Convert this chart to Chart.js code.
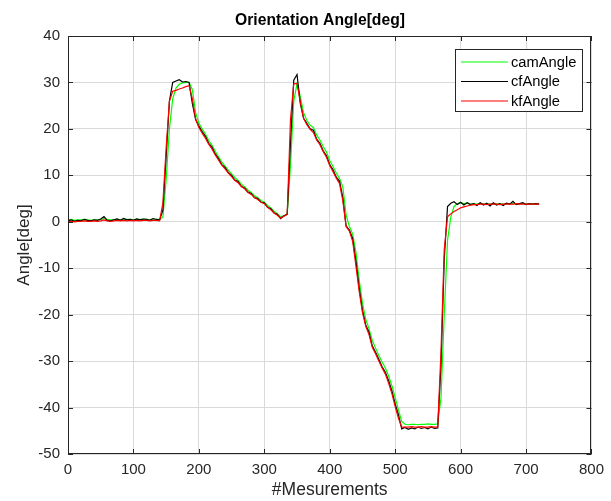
<!DOCTYPE html>
<html>
<head>
<meta charset="utf-8">
<script src="https://cdn.jsdelivr.net/npm/chart.js@4.4.0/dist/chart.umd.min.js"></script>
<style>
  body { margin: 0; background: #fff; }
  #wrap { width: 611px; height: 501px; }
</style>
</head>
<body>
<div id="wrap"><canvas id="angleChart" width="611" height="501"></canvas></div>
<script>
const measurements = [
  0, 5, 10, 15, 20, 25, 30, 35, 40, 45,
  50, 55, 60, 65, 70, 75, 80, 85, 90, 95,
  100, 105, 110, 115, 120, 125, 130, 135, 140, 145,
  150, 155, 160, 165, 170, 175, 180, 185, 190, 195,
  200, 205, 210, 215, 220, 225, 230, 235, 240, 245,
  250, 255, 260, 265, 270, 275, 280, 285, 290, 295,
  300, 305, 310, 315, 320, 325, 330, 335, 340, 345,
  350, 355, 360, 365, 370, 375, 380, 385, 390, 395,
  400, 405, 410, 415, 420, 425, 430, 435, 440, 445,
  450, 455, 460, 465, 470, 475, 480, 485, 490, 495,
  500, 505, 510, 515, 520, 525, 530, 535, 540, 545,
  550, 555, 560, 565, 570, 575, 580, 585, 590, 595,
  600, 605, 610, 615, 620, 625, 630, 635, 640, 645,
  650, 655, 660, 665, 670, 675, 680, 685, 690, 695,
  700, 705, 710, 715, 720
];

const camAngle = [
  0.4, 0.5, 0.3, 0.4, 0.4, 0.5, 0.4, 0.3, 0.4, 0.4,
  0.5, 0.7, 0.5, 0.4, 0.4, 0.5, 0.4, 0.6, 0.5, 0.5,
  0.4, 0.5, 0.5, 0.5, 0.5, 0.4, 0.6, 0.5, 0.5, 1.0,
  9, 20, 26.5, 28.8, 29.6, 29.9, 30.0, 30.0, 28.5, 23.5,
  21.2, 20.0, 18.9, 17.5, 16.5, 15.2, 14.0, 12.9, 12.0, 11.1,
  10.3, 9.5, 8.9, 8.1, 7.5, 6.8, 6.3, 5.6, 5.2, 4.6,
  4.2, 3.5, 3.0, 2.3, 1.7, 1.1, 1.3, 1.6, 12, 26,
  29.7, 27, 23.5, 21.8, 20.8, 20.3, 18.7, 17.6, 16.2, 15.0,
  13.2, 11.9, 10.5, 9.3, 7.5, 1.5, -1.0, -2.6, -6.5, -12.5,
  -17.5, -21, -23, -25.5, -27.2, -28.8, -30.2, -31.5, -33.2, -35.3,
  -37.8, -40.5, -43.0, -43.6, -43.7, -43.6, -43.6, -43.7, -43.6, -43.6,
  -43.5, -43.6, -43.6, -43.5, -38, -20, -4, 1.0, 3.3, 3.9,
  4.1, 3.9, 4.0, 3.8, 3.9, 3.8, 4.0, 3.8, 3.9, 3.8,
  3.9, 3.8, 3.9, 3.8, 3.9, 3.9, 4.0, 3.8, 3.9, 3.9,
  3.8, 3.9, 3.8, 3.9, 3.8
];

const cfAngle = [
  0.2, 0.4, 0.1, 0.3, 0.2, 0.5, 0.3, 0.2, 0.4, 0.3,
  0.6, 1.1, 0.3, 0.2, 0.4, 0.6, 0.3, 0.7, 0.4, 0.5,
  0.3, 0.6, 0.4, 0.6, 0.5, 0.3, 0.7, 0.5, 0.4, 2.5,
  14, 26, 30, 30.3, 30.6, 30.1, 30.2, 30, 25.5, 22,
  20.6, 19.4, 18.4, 16.9, 16.1, 14.6, 13.6, 12.3, 11.7, 10.6,
  10.0, 9.0, 8.7, 7.6, 7.3, 6.4, 6.1, 5.2, 5.0, 4.2,
  4.1, 3.1, 2.8, 1.9, 1.6, 0.7, 1.3, 1.6, 17, 30.5,
  31.7, 25.5, 22.3, 21.2, 20.0, 19.7, 17.8, 16.9, 15.3, 14.2,
  12.3, 11.2, 9.6, 8.7, 5.2, -0.9, -1.8, -3.6, -8.4, -14.2,
  -19, -22.2, -23.8, -26.7, -28.1, -29.6, -31.2, -32.4, -34.2, -36.4,
  -39.2, -41.6, -44.6, -44.3, -44.7, -44.4, -44.6, -44.2, -44.5, -44.3,
  -44.6, -44.2, -44.5, -44.4, -31, -8, 3.3, 4.0, 4.3, 3.7,
  4.2, 3.6, 4.1, 3.7, 3.9, 3.5, 4.1, 3.6, 4.0, 3.4,
  4.1, 3.6, 3.9, 3.5, 4.0, 3.8, 4.4, 3.7, 3.9, 4.1,
  3.7, 3.9, 3.8, 3.9, 3.8
];

const kfAngle = [
  0.0, 0.1, 0.0, 0.1, 0.1, 0.2, 0.1, 0.1, 0.2, 0.1,
  0.2, 0.4, 0.2, 0.1, 0.2, 0.3, 0.2, 0.3, 0.2, 0.3,
  0.2, 0.3, 0.2, 0.3, 0.3, 0.2, 0.3, 0.3, 0.2, 4,
  16, 26, 28.1, 28.3, 28.6, 28.8, 29.1, 29.3, 26.5, 22.2,
  20.3, 19.1, 18.0, 16.7, 15.7, 14.4, 13.3, 12.2, 11.4, 10.5,
  9.7, 8.9, 8.4, 7.6, 7.1, 6.3, 5.9, 5.2, 4.8, 4.2,
  3.9, 3.1, 2.6, 1.9, 1.4, 0.8, 1.2, 1.6, 22, 29.7,
  29.8, 25.8, 22.3, 20.9, 19.9, 19.2, 17.6, 16.6, 15.1, 13.9,
  12.1, 10.8, 9.4, 8.2, 4.5, -1.0, -2.0, -4.2, -9.5, -15,
  -19.5, -22.5, -24.3, -27, -28.4, -30, -31.5, -32.8, -34.8, -37,
  -39.8, -42.3, -44.2, -44.2, -44.2, -44.1, -44.2, -44.2, -44.1, -44.2,
  -44.2, -44.1, -44.2, -44.2, -28, -6, 1.1, 1.7, 2.2, 2.6,
  3.0, 3.2, 3.4, 3.6, 3.7, 3.7, 3.8, 3.8, 3.7, 3.8,
  3.8, 3.8, 3.7, 3.8, 3.8, 3.8, 3.8, 3.9, 3.8, 3.8,
  3.8, 3.8, 3.8, 3.8, 3.8
];

const xTicks = [0, 100, 200, 300, 400, 500, 600, 700, 800];
const yTicks = [-50, -40, -30, -20, -10, 0, 10, 20, 30, 40];
const chartTitle = 'Orientation Angle[deg]';

const FONT = 'Liberation Sans, Arial, Helvetica, sans-serif';
const AXIS_COLOR = '#262626';

function toPoints(values) {
  return measurements.map((m, i) => ({ x: m, y: values[i] }));
}

// matlab style box with inward tick marks, title and legend
const axesBox = {
  id: 'axesBox',
  afterDatasetsDraw(chart) {
    const { ctx, chartArea: a, scales } = chart;
    const len = 5;
    ctx.save();
    ctx.strokeStyle = AXIS_COLOR;
    ctx.lineWidth = 1;
    ctx.beginPath();
    xTicks.forEach(v => {
      const px = Math.round(scales.x.getPixelForValue(v)) + 0.5;
      ctx.moveTo(px, a.bottom); ctx.lineTo(px, a.bottom - len);
      ctx.moveTo(px, a.top); ctx.lineTo(px, a.top + len);
    });
    yTicks.forEach(v => {
      const py = Math.round(scales.y.getPixelForValue(v)) + 0.5;
      ctx.moveTo(a.left, py); ctx.lineTo(a.left + len, py);
      ctx.moveTo(a.right, py); ctx.lineTo(a.right - len, py);
    });
    ctx.stroke();
    ctx.strokeRect(Math.round(a.left) + 0.5, Math.round(a.top) + 0.5,
      Math.round(a.width) - 1, Math.round(a.height) - 1);
    ctx.restore();
  },
  afterDraw(chart) {
    const { ctx } = chart;
    ctx.save();
    ctx.fillStyle = '#000';
    ctx.font = 'bold 15.7px ' + FONT;
    ctx.textAlign = 'center';
    ctx.textBaseline = 'middle';
    ctx.fillText(chartTitle, 320, 20.5);

    const box = { x: 455.5, y: 49.5, w: 127, h: 62 };
    ctx.fillStyle = '#fff';
    ctx.fillRect(box.x, box.y, box.w, box.h);
    ctx.strokeStyle = AXIS_COLOR;
    ctx.lineWidth = 1;
    ctx.strokeRect(box.x, box.y, box.w, box.h);
    ctx.font = '14.7px ' + FONT;
    ctx.textAlign = 'left';
    chart.data.datasets.forEach((ds, i) => {
      const y = 62 + i * 19.5;
      ctx.strokeStyle = ds.borderColor;
      ctx.lineWidth = 1.2;
      ctx.beginPath();
      ctx.moveTo(461, y); ctx.lineTo(508, y);
      ctx.stroke();
      ctx.fillStyle = '#000';
      ctx.fillText(ds.label, 511, y + 0.5);
    });
    ctx.restore();
  }
};

new Chart(document.getElementById('angleChart'), {
  type: 'line',
  data: {
    datasets: [
      { label: 'camAngle', data: toPoints(camAngle), borderColor: '#00ff00', order: 2 },
      { label: 'cfAngle', data: toPoints(cfAngle), borderColor: '#000000', order: 1 },
      { label: 'kfAngle', data: toPoints(kfAngle), borderColor: '#ff0000', order: 0 }
    ]
  },
  plugins: [axesBox],
  options: {
    responsive: false,
    animation: false,
    events: [],
    elements: {
      point: { radius: 0 },
      line: { borderWidth: 1.2, tension: 0 }
    },
    layout: { padding: { left: 0, right: 12, top: 36, bottom: 0 } },
    plugins: {
      legend: { display: false },
      tooltip: { enabled: false },
      title: { display: false }
    },
    scales: {
      x: {
        type: 'linear',
        min: 0,
        max: 800,
        afterFit: s => { s.height = 47; },
        afterBuildTicks: s => { s.ticks = xTicks.map(v => ({ value: v })); },
        grid: { color: '#d9d9d9', drawTicks: false },
        border: { display: false },
        ticks: { color: AXIS_COLOR, padding: 7, maxRotation: 0, font: { family: FONT, size: 15 } },
        title: {
          display: true,
          text: '#Mesurements',
          color: AXIS_COLOR,
          padding: { top: 2, bottom: 0 },
          font: { family: FONT, size: 17.5 }
        }
      },
      y: {
        min: -50,
        max: 40,
        afterFit: s => { s.width = 68; },
        afterBuildTicks: s => { s.ticks = yTicks.map(v => ({ value: v })); },
        grid: { color: '#d9d9d9', drawTicks: false },
        border: { display: false },
        ticks: { color: AXIS_COLOR, padding: 8, font: { family: FONT, size: 15 } },
        title: {
          display: true,
          text: 'Angle[deg]',
          color: AXIS_COLOR,
          padding: { top: 14, bottom: 0 },
          font: { family: FONT, size: 17 }
        }
      }
    }
  }
});
</script>
</body>
</html>
